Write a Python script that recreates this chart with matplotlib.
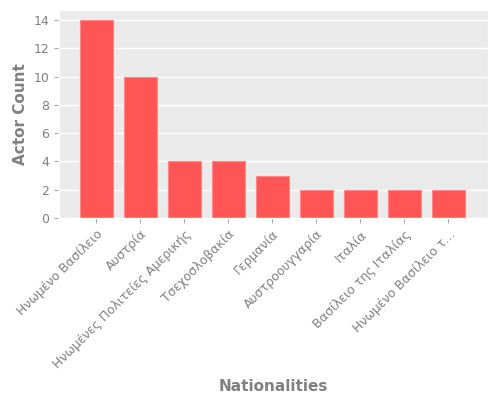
import matplotlib
matplotlib.use('Agg')
import matplotlib.pyplot as plt

plt.style.use('ggplot')

nationalities = ['Ηνωμένο Βασίλειο', 'Αυστρία', 'Ηνωμένες Πολιτείες Αμερικής',
                 'Τσεχοσλοβακία', 'Γερμανία', 'Αυστροουγγαρία', 'Ιταλία',
                 'Βασίλειο της Ιταλίας', 'Ηνωμένο Βασίλειο τ...']
actor_counts = [14, 10, 4, 4, 3, 2, 2, 2, 2]

fig = plt.figure(figsize=(5, 4), dpi=100)
ax = fig.add_axes([0.118, 0.455, 0.858, 0.52])
ax.set_facecolor('#eaeaea')
ax.grid(axis='x', visible=False)
ax.grid(axis='y', color='white', linewidth=1)

x = range(len(nationalities))
ax.bar(x, actor_counts, width=0.75, color='#ff5555', edgecolor='#ff8888', linewidth=0.8)

ax.set_xticks(list(x))
ax.set_xticklabels(nationalities, rotation=45, ha='right', va='top',
                   rotation_mode='anchor', fontsize=9, color='#808080')
ax.tick_params(axis='y', labelsize=9, labelcolor='#808080')
ax.tick_params(axis='both', color='#aaaaaa')
ax.set_xlim(-0.85, 8.9)
ax.set_ylim(0, 14.7)
ax.set_yticks(range(0, 15, 2))

ax.set_ylabel('Actor Count', fontsize=11, color='#808080', fontweight='bold')
ax.set_xlabel('Nationalities', fontsize=11, color='#808080', fontweight='bold')
ax.xaxis.set_label_coords(0.5, -0.775)

fig.savefig('out.png', dpi=100)
